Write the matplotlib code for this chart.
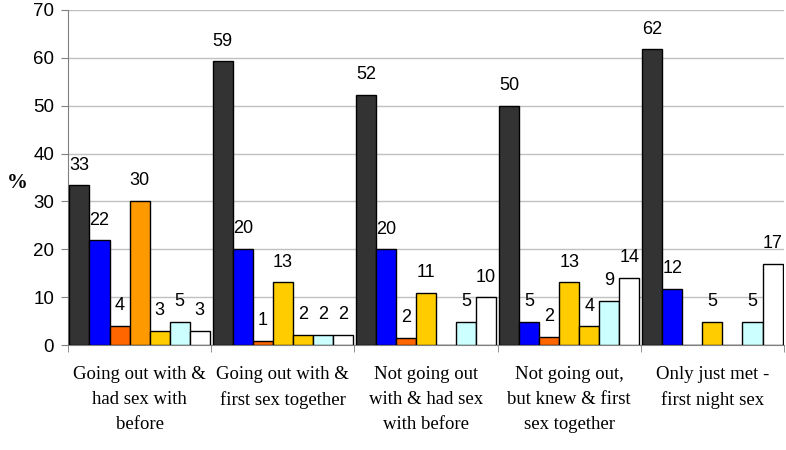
import numpy as np
import matplotlib.pyplot as plt
import matplotlib as mpl

mpl.rcParams["font.family"] = ["Liberation Sans", "DejaVu Sans"]

categories = ["Going out with &\nhad sex with\nbefore",
              "Going out with &\nfirst sex together",
              "Not going out\nwith & had sex\nwith before",
              "Not going out,\nbut knew & first\nsex together",
              "Only just met -\nfirst night sex"]

# one list per series, nan = no bar
s1 = [33.4, 59.3, 52.3, 50.0, 61.8]
s2 = [21.9, 20.1, 20.0, 4.9, 11.8]
s3 = [4.0, 0.9, 1.5, 1.7, np.nan]
s4 = [30.1, 13.1, 10.9, 13.1, 4.9]
s5 = [3.0, 2.1, np.nan, 3.9, np.nan]
s6 = [4.9, 2.1, 4.9, 9.2, 4.9]
s7 = [3.0, 2.1, 10.0, 14.0, 17.0]

series = [s1, s2, s3, s4, s5, s6, s7]
colors = ["#333333", "#0000FF", "#FF6600", "#FFCC00", "#FFCC00", "#CCFFFF", "#FFFFFF"]
# first group's 4th bar is a different orange
point_colors = {(3, 0): "#FF9900"}

yticks = np.arange(0, 80, 10)

fig = plt.figure(figsize=(7.86, 4.5), dpi=100)
ax = fig.add_axes([68/786, 105/450, 716/786, 335/450])

x = np.arange(len(categories))
width = 0.14
for j, vals in enumerate(series):
    vals = np.array(vals, dtype=float)
    cols = [point_colors.get((j, i), colors[j]) for i in range(len(vals))]
    xpos = x + (j - 3) * width
    ax.bar(xpos, np.nan_to_num(vals), width, color=cols,
           edgecolor="black", linewidth=1.0, zorder=3)
    for xi, v in zip(xpos, vals):
        if np.isnan(v):
            continue
        ax.annotate("%d" % round(v), (xi, v), xytext=(0, 14.5),
                    textcoords="offset points", ha="center", va="center",
                    fontsize=13, color="black")

ax.set_xlim(-0.5, len(categories) - 0.5)
ax.set_ylim(0, 70)
ax.set_yticks(yticks)
ax.tick_params(axis="y", labelsize=13.5, length=5, color="#808080", pad=5)
ax.yaxis.grid(True, color="#c0c0c0", linewidth=1, zorder=0)

ax.set_xticks(x)
ax.set_xticklabels(categories, fontfamily="Liberation Serif", fontsize=13.5,
                   linespacing=1.62)
ax.tick_params(axis="x", length=0, pad=15)
ax.set_xticks(np.arange(-0.5, len(categories), 1), minor=True)
ax.tick_params(axis="x", which="minor", length=5, color="#808080")

for side in ["top", "right"]:
    ax.spines[side].set_visible(False)
ax.spines["left"].set_color("#808080")
ax.spines["bottom"].set_color("#808080")

fig.text(17/786, 1 - 183/450, "%", fontfamily="Liberation Serif",
         fontweight="bold", fontsize=15, ha="center", va="center")

plt.savefig("out.png", dpi=100)
